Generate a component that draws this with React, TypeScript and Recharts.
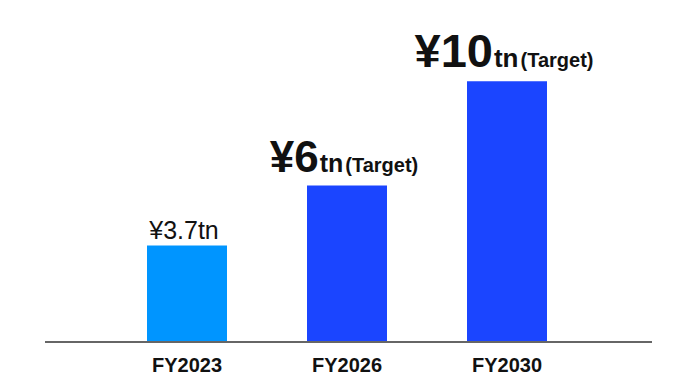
import React from 'react';
import { BarChart, Bar, XAxis, YAxis, Cell, LabelList } from 'recharts';

const years = ['FY2023', 'FY2026', 'FY2030'];
const revenue = [3.7, 6, 10];
const isTarget = [false, true, true];

const data = years.map((year, i) => ({ year, revenue: revenue[i], target: isTarget[i] }));

const FONT = '"Liberation Sans", Arial, sans-serif';

const renderLabel = (props: any) => {
  const { x, y, width, value, index } = props;
  const cx = x + width / 2 - 3;
  if (!isTarget[index]) {
    return (
      <text x={cx} y={y - 6} textAnchor="middle" fontFamily={FONT} fontSize={25} fill="#111">
        {`¥${value}tn`}
      </text>
    );
  }
  const big = index === 2 ? 47 : 44;
  const mid = index === 2 ? 26 : 25;
  return (
    <text x={cx} y={y - 14} textAnchor="middle" fontFamily={FONT} fontWeight="bold" fill="#111">
      <tspan fontSize={big}>{`¥${value}`}</tspan>
      <tspan fontSize={mid} dx={1}>tn</tspan>
      <tspan fontSize={20} dx={2}>(Target)</tspan>
    </text>
  );
};

const App: React.FC = () => {
  return (
    <div style={{ position: 'absolute', left: 0, top: 0, background: '#fff' }}>
      <BarChart width={690} height={388} data={data} margin={{ top: 29, right: 38, left: 45, bottom: 0 }}>
        <XAxis
          dataKey="year"
          height={46}
          padding={{ left: 62, right: 65 }}
          axisLine={{ stroke: '#666', strokeWidth: 2 }}
          tickLine={false}
          tickMargin={10}
          tick={{ fontFamily: FONT, fontSize: 20, fontWeight: 'bold', fill: '#111' }}
        />
        <YAxis hide domain={[0, 12]} />
        <Bar dataKey="revenue" barSize={80} isAnimationActive={false}>
          {data.map((d, i) => (
            <Cell key={`cell-${i}`} fill={d.target ? '#1B45FF' : '#0095FF'} />
          ))}
          <LabelList dataKey="revenue" content={renderLabel} />
        </Bar>
      </BarChart>
    </div>
  );
};

export default App;
